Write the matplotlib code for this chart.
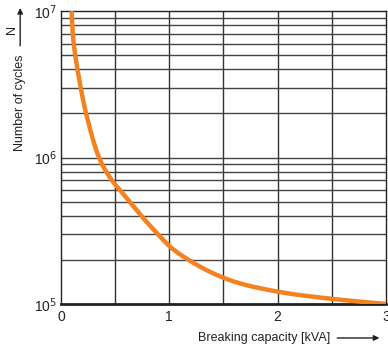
import numpy as np
import matplotlib.pyplot as plt

plt.rcParams['font.family'] = ['Liberation Sans', 'DejaVu Sans']

# curve
capacity = [0.098, 0.113, 0.181, 0.23, 0.34, 0.465, 0.545, 0.633, 0.74, 0.892, 1.06, 1.5, 2.0, 2.5, 3.0]
cycles = [1e7, 6e6, 3e6, 2e6, 1e6, 7e5, 6e5, 5e5, 4e5, 3e5, 2.23e5, 1.46e5, 1.2e5, 1.08e5, 1e5]

xticks = [0, 1, 2, 3]
xgrid = [0.5, 1, 1.5, 2, 2.5]
ygrid = [2e5, 3e5, 4e5, 5e5, 6e5, 7e5, 8e5, 9e5, 1e6,
         2e6, 3e6, 4e6, 5e6, 6e6, 7e6, 8e6, 9e6]


def chaikin(px, py, n=5):
    # corner cutting to get a smooth line through the read points
    p = np.column_stack([px, py])
    for _ in range(n):
        q = 0.75 * p[:-1] + 0.25 * p[1:]
        r = 0.25 * p[:-1] + 0.75 * p[1:]
        mid = np.empty((2 * len(q), 2))
        mid[0::2] = q
        mid[1::2] = r
        p = np.vstack([p[:1], mid, p[-1:]])
    return p[:, 0], p[:, 1]


fig = plt.figure(figsize=(3.88, 3.47), dpi=100)
ax = fig.add_axes([0.157, 0.124, 0.838, 0.844])

# smooth in screen-like space (x/3, log y / 2)
sx, sy = chaikin(np.array(capacity) / 3.0, (np.log10(cycles) - 5) / 2.0)
xs = sx * 3.0
ys = 10 ** (sy * 2.0 + 5)

for g in xgrid:
    ax.axvline(g, color='#333333', lw=1.0, zorder=1)
for g in ygrid:
    ax.axhline(g, color='#444444', lw=1.0, zorder=1)

ax.plot(xs, ys, color='#F58220', lw=3.2, zorder=3, solid_capstyle='butt')

ax.set_yscale('log')
ax.set_xlim(0, 3)
ax.set_ylim(1e5, 1e7)
ax.set_xticks(xticks)
ax.set_xticklabels([str(v) for v in xticks])
ax.set_yticks([1e5, 1e6, 1e7])
ax.set_yticklabels(['10$^5$', '10$^6$', '10$^7$'])
ax.minorticks_off()
ax.tick_params(length=0, labelsize=10, pad=4, colors='#222222')
ax.tick_params(axis='y', pad=3)

for s in ['left', 'top', 'right']:
    ax.spines[s].set_color('#222222')
    ax.spines[s].set_linewidth(1.0)
ax.spines['bottom'].set_color('#222222')
ax.spines['bottom'].set_linewidth(2.0)

fig.text(0.052, 0.705, 'Number of cycles', rotation=90, ha='center', va='center',
         fontsize=9, color='#222222')
fig.text(0.031, 0.915, 'N', rotation=90, ha='center', va='center',
         fontsize=9, color='#222222')
plt.annotate('', xy=(0.052, 0.985), xytext=(0.052, 0.86),
             xycoords='figure fraction',
             arrowprops=dict(arrowstyle='-|>', color='#222222', lw=1.0, mutation_scale=8))
fig.text(0.68, 0.026, 'Breaking capacity [kVA]', ha='center', va='center',
         fontsize=9, color='#222222')
plt.annotate('', xy=(0.985, 0.026), xytext=(0.862, 0.026),
             xycoords='figure fraction',
             arrowprops=dict(arrowstyle='-|>', color='#222222', lw=1.0, mutation_scale=8))

fig.savefig('out.png', dpi=100)
